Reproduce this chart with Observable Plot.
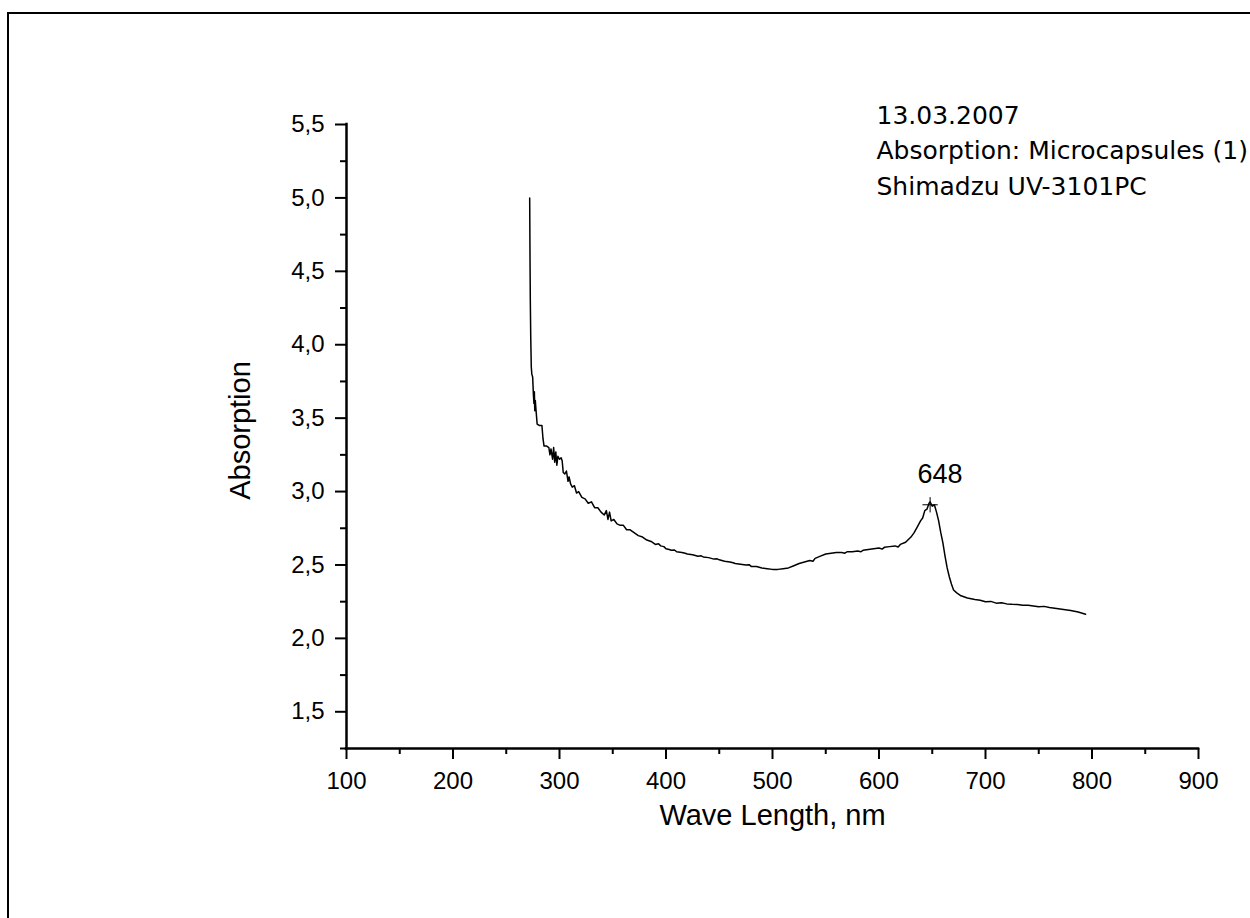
<!DOCTYPE html>
<html>
<head>
<meta charset="utf-8">
<script src="https://cdn.jsdelivr.net/npm/d3@7"></script>
<script src="https://cdn.jsdelivr.net/npm/@observablehq/plot@0.6"></script>
<style>
  html, body { margin: 0; padding: 0; background: #fff; }
  #wrap { position: relative; width: 1250px; height: 918px; overflow: hidden; }
  #frame { position: absolute; left: 7px; top: 12px; width: 1260px; height: 930px; border: 2px solid #000; pointer-events: none; }
</style>
</head>
<body>
<div id="wrap"><div id="frame"></div></div>
<script>
// ---- data ----
const wavelength = [
  272.0, 272.3, 272.6, 273.0, 273.5, 274.0, 274.8, 275.5, 276.0, 276.4, 276.8, 277.3, 278.0, 279.0, 281.0, 283.5,
  284.5, 285.5, 288.0, 290.0, 291.0, 292.0, 293.5, 294.5, 295.5, 296.5, 297.5, 298.5, 300.0, 301.5, 302.5, 303.5,
  305.0, 306.5, 308.0, 309.0, 310.5, 312.0, 314.0, 316.0, 318.0, 321.0, 324.0, 327.0, 330.0, 333.0, 336.0, 339.0,
  342.0, 344.0, 345.5, 347.0, 348.5, 351.0, 354.0, 357.0, 360.0, 363.0, 366.0, 370.0, 374.0, 378.0, 382.0, 386.0,
  390.0, 393.0, 395.0, 398.0, 400.0, 403.0, 405.0, 408.0, 410.0, 415.0, 418.0, 420.0, 425.0, 430.0, 433.0, 435.0,
  440.0, 445.0, 448.0, 450.0, 455.0, 460.0, 463.0, 465.0, 470.0, 475.0, 478.0, 480.0, 485.0, 490.0, 495.0, 500.0,
  505.0, 510.0, 515.0, 520.0, 525.0, 530.0, 535.0, 538.0, 540.0, 545.0, 550.0, 555.0, 560.0, 565.0, 568.0, 570.0,
  575.0, 580.0, 583.0, 585.0, 590.0, 595.0, 600.0, 603.0, 605.0, 610.0, 615.0, 618.0, 620.0, 625.0,
  630.0, 633.0, 636.0, 639.0, 641.0, 643.0, 645.0, 647.0, 648.0, 650.0, 652.0, 654.0, 656.0, 658.0, 660.0, 662.0,
  664.0, 666.0, 668.0, 670.0, 673.0, 677.0, 683.0, 690.0, 695.0, 700.0, 705.0, 710.0, 715.0, 720.0, 725.0, 730.0,
  735.0, 740.0, 745.0, 750.0, 755.0, 760.0, 765.0, 770.0, 775.0, 780.0, 787.0, 794.0
];
const absorption = [
  5.00, 4.60, 4.30, 4.05, 3.85, 3.80, 3.78, 3.66, 3.60, 3.68, 3.55, 3.62, 3.55, 3.46, 3.45, 3.45,
  3.36, 3.31, 3.31, 3.30, 3.25, 3.29, 3.22, 3.30, 3.20, 3.27, 3.18, 3.24, 3.22, 3.23, 3.21, 3.13,
  3.12, 3.14, 3.07, 3.10, 3.05, 3.03, 3.04, 2.99, 3.00, 2.96, 2.95, 2.92, 2.93, 2.89, 2.89, 2.86,
  2.84, 2.87, 2.81, 2.86, 2.80, 2.81, 2.78, 2.77, 2.77, 2.74, 2.74, 2.72, 2.70, 2.69, 2.67, 2.66,
  2.64, 2.645, 2.63, 2.625, 2.61, 2.605, 2.60, 2.602, 2.59, 2.585, 2.58, 2.575, 2.57, 2.56, 2.562, 2.555,
  2.55, 2.54, 2.542, 2.535, 2.525, 2.52, 2.515, 2.51, 2.505, 2.50, 2.502, 2.49, 2.49, 2.48, 2.475, 2.47,
  2.47, 2.475, 2.48, 2.495, 2.51, 2.52, 2.53, 2.525, 2.545, 2.56, 2.575, 2.58, 2.585, 2.585, 2.58, 2.59,
  2.59, 2.595, 2.59, 2.60, 2.605, 2.61, 2.615, 2.608, 2.62, 2.625, 2.63, 2.622, 2.64, 2.655,
  2.69, 2.72, 2.76, 2.80, 2.82, 2.87, 2.88, 2.92, 2.93, 2.90, 2.91, 2.86, 2.80, 2.72, 2.65, 2.56,
  2.48, 2.42, 2.37, 2.33, 2.31, 2.29, 2.275, 2.265, 2.26, 2.25, 2.252, 2.24, 2.243, 2.235, 2.232, 2.23,
  2.225, 2.225, 2.22, 2.215, 2.218, 2.21, 2.205, 2.20, 2.195, 2.19, 2.18, 2.165
];
const peakWavelength = [648];
const peakAbsorption = [2.91];
const peakLabels = ["648"];

const xDomain = [100, 900];
const yDomain = [1.25, 5.5];
const xMajor = [100, 200, 300, 400, 500, 600, 700, 800, 900];
const xMinor = [150, 250, 350, 450, 550, 650, 750, 850];
const yMajor = [1.5, 2.0, 2.5, 3.0, 3.5, 4.0, 4.5, 5.0, 5.5];
const yMinor = [1.25, 1.75, 2.25, 2.75, 3.25, 3.75, 4.25, 4.75, 5.25];

const xTitle = "Wave Length, nm";
const yTitle = "Absorption";
const noteLines = ["13.03.2007", "Absorption: Microcapsules (1)", "Shimadzu UV-3101PC"];

// ---- build ----
const spectrum = wavelength.map((w, i) => ({w, a: absorption[i]}));
const peaks = peakWavelength.map((w, i) => ({w, a: peakAbsorption[i], label: peakLabels[i]}));

const chart = Plot.plot({
  width: 1250,
  height: 918,
  marginLeft: 346,
  marginRight: 52,
  marginTop: 124,
  marginBottom: 170,
  style: {fontFamily: "'Liberation Sans', Arial, sans-serif", background: "transparent", color: "#000"},
  x: {domain: xDomain, label: null},
  y: {domain: yDomain, label: null},
  marks: [
    Plot.axisX({ticks: xMajor, tickSize: 11, tickPadding: 12, tickFormat: d => String(d), fontSize: 24, strokeWidth: 2, label: null}),
    Plot.axisX({ticks: xMinor, tickSize: 6, tickFormat: () => "", strokeWidth: 2, label: null}),
    Plot.axisY({ticks: yMajor, tickSize: 11, tickPadding: 11, tickFormat: d => d.toFixed(1).replace(".", ","), fontSize: 24, strokeWidth: 2, label: null}),
    Plot.axisY({ticks: yMinor, tickSize: 6, tickFormat: () => "", strokeWidth: 2, label: null}),
    Plot.ruleX([xDomain[0]], {strokeWidth: 2.5, strokeLinecap: "square"}),
    Plot.ruleY([yDomain[0]], {strokeWidth: 2.5, strokeLinecap: "square"}),
    Plot.line(spectrum, {x: "w", y: "a", stroke: "#000", strokeWidth: 1.5}),
    Plot.dot(peaks, {x: "w", y: "a", symbol: "plus", r: 5, stroke: "#000", strokeWidth: 1}),
    Plot.text(peaks, {x: "w", y: "a", text: "label", dx: 10, dy: -30, fontSize: 27, fill: "#000"}),
    Plot.text([xTitle], {frameAnchor: "bottom", lineAnchor: "middle", textAnchor: "middle", dy: 67, fontSize: 29, fill: "#000"}),
    Plot.text([yTitle], {frameAnchor: "left", lineAnchor: "middle", textAnchor: "middle", dx: -106, dy: -6, rotate: -90, fontSize: 29, fill: "#000"}),
    Plot.text([noteLines.join("\n")], {frameAnchor: "top-left", dx: 530, dy: -26, textAnchor: "start", lineAnchor: "top", lineHeight: 1.42, fontSize: 25, fontFamily: "'DejaVu Sans', sans-serif", fill: "#000"})
  ]
});
chart.style.position = "absolute";
chart.style.left = "0";
chart.style.top = "0";
document.getElementById("wrap").prepend(chart);
</script>
</body>
</html>
